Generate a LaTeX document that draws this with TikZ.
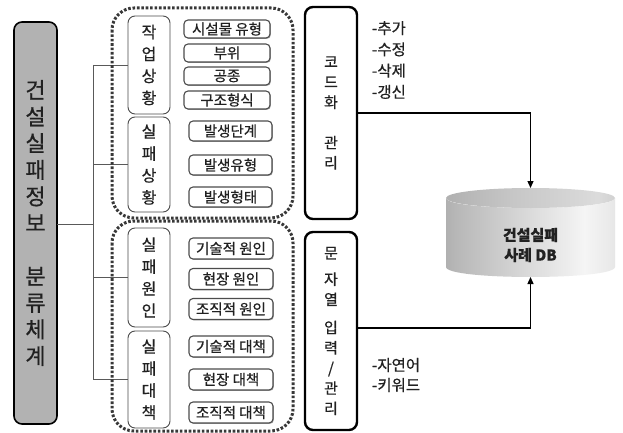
\documentclass[tikz,border=0pt]{standalone}
\usepackage{fontspec}
\setmainfont{Noto Sans CJK KR}[FakeBold=0.6]
\usetikzlibrary{shadows,arrows.meta}
\definecolor{boxgray}{gray}{0.70}
\definecolor{txt}{gray}{0.13}
\definecolor{catline}{gray}{0.30}
\definecolor{frm}{gray}{0.22}
\definecolor{conn}{gray}{0.35}
\definecolor{cA}{gray}{0.45}
\definecolor{cB}{gray}{0.72}
\definecolor{cC}{gray}{0.96}
\definecolor{cD}{gray}{0.84}
\definecolor{cE}{gray}{0.52}
\definecolor{tA}{gray}{0.58}
\definecolor{tB}{gray}{0.78}
\definecolor{tC}{gray}{0.86}
\definecolor{tD}{gray}{0.62}
\pgfdeclarehorizontalshading{cylbody}{100bp}{color(0bp)=(cA); color(28bp)=(cB); color(66bp)=(cC); color(86bp)=(cD); color(100bp)=(cE)}
\pgfdeclarehorizontalshading{cyltop}{100bp}{color(0bp)=(tA); color(45bp)=(tB); color(70bp)=(tC); color(100bp)=(tD)}
\begin{document}
\begin{tikzpicture}[x=1pt,y=-1pt,
  every node/.style={inner sep=0pt, outer sep=0pt},
  mainbox/.style={draw=black, line width=1.6pt, rounded corners=8pt, fill=boxgray,
    minimum width=43pt, minimum height=402pt, align=center, text=txt,
    font=\fontsize{22}{26.6}\selectfont},
  catbox/.style={draw=catline, line width=0.9pt, rounded corners=7pt, fill=white,
    minimum width=42pt, align=center, text=txt, font=\fontsize{16}{22}\selectfont},
  itembox/.style={draw=catline, line width=1.1pt, rounded corners=4pt, fill=white,
    text=txt, font=\fontsize{14.5}{16}\selectfont,
    drop shadow={shadow xshift=0.9pt, shadow yshift=-0.9pt, fill=gray!65, opacity=1}},
  sidebox/.style={draw=black, line width=2.4pt, rounded corners=8pt, fill=white,
    minimum width=52pt, align=center, text=txt, font=\fontsize{15}{20.2}\selectfont},
  frame/.style={draw=frm, line width=3pt, dash pattern=on 2.6pt off 1.8pt, rounded corners=22pt},
  conline/.style={draw=conn, line width=0.9pt},
  arr/.style={draw=black, line width=1.3pt, -{Triangle[length=7pt,width=6pt]}},
  lab/.style={align=left, text=txt, anchor=west}]
\useasboundingbox[fill=white] (0,0) rectangle (623,433);

% main box
\node[mainbox] (L) at (35.5,223) {건\\설\\실\\패\\정\\보\\[26.6pt]분\\류\\체\\계};

% category boxes
\node[catbox, minimum height=98pt] (c1) at (149,65) {작\\업\\상\\황};
\node[catbox, minimum height=95pt] (c2) at (149,164.5) {실\\패\\상\\황};
\node[catbox, minimum height=99pt] (c3) at (149,277.5) {실\\패\\원\\인};
\node[catbox, minimum height=97pt] (c4) at (149,379.5) {실\\패\\대\\책};

% connectors from main box
\coordinate (j) at (93,224);
\draw[conline] (L.east |- j) -- (j);
\draw[conline] (j |- c1.west) -- (j |- c4.west);
\draw[conline] (j |- c1.west) -- (c1.west);
\draw[conline] (j |- c2.west) -- (c2.west);
\draw[conline] (j |- c3.west) -- (c3.west);
\draw[conline] (j |- c4.west) -- (c4.west);

% item boxes
\node[itembox, minimum width=86pt, minimum height=18pt] (i11) at (227,29) {시설물 유형};
\node[itembox, minimum width=86pt, minimum height=18pt] (i12) at (227,53) {부위};
\node[itembox, minimum width=86pt, minimum height=18pt] (i13) at (227,76) {공종};
\node[itembox, minimum width=86pt, minimum height=18pt] (i14) at (227,100) {구조형식};
\node[itembox, minimum width=83pt, minimum height=20pt] (i21) at (230.5,131) {발생단계};
\node[itembox, minimum width=83pt, minimum height=20pt] (i22) at (230.5,165) {발생유형};
\node[itembox, minimum width=83pt, minimum height=20pt] (i23) at (230.5,197) {발생형태};
\node[itembox, minimum width=84pt, minimum height=21pt] (i31) at (231,248.5) {기술적 원인};
\node[itembox, minimum width=84pt, minimum height=21pt] (i32) at (231,279) {현장 원인};
\node[itembox, minimum width=84pt, minimum height=21pt] (i33) at (231,309) {조직적 원인};
\node[itembox, minimum width=84pt, minimum height=21pt] (i41) at (231,346.5) {기술적 대책};
\node[itembox, minimum width=84pt, minimum height=21pt] (i42) at (231,379.5) {현장 대책};
\node[itembox, minimum width=84pt, minimum height=21pt] (i43) at (231,412.5) {조직적 대책};

% dotted frames
\draw[frame] (112,8) rectangle (293,218);
\draw[frame] (112,221) rectangle (293,431);

% side boxes
\node[sidebox, minimum height=212pt] (R1) at (331,113) {코\\드\\화\\[20.2pt]관\\리};
\node[sidebox, minimum height=198pt] (R2) at (331,331) {문\\[6pt]자\\열\\[8pt]입\\력\\/\\관\\리};

% labels
\node[lab, font=\fontsize{15.5}{21.3}\selectfont] (lb1) at (372,60) {-추가\\-수정\\-삭제\\-갱신};
\node[lab, font=\fontsize{15.5}{20}\selectfont] (lb2) at (372,375) {-자연어\\-키워드};

% database cylinder
\path[shading=cylbody] (446,198) -- (446,267) .. controls (446,280.3) and (615,280.3) .. (615,267)
  -- (615,198) .. controls (615,211.3) and (446,211.3) .. (446,198) -- cycle;
\path[shading=cyltop] (530.5,198) ellipse [x radius=84.5, y radius=10];
\node[minimum width=169pt, minimum height=89pt] (db) at (530.5,232.5) {};
\node[font=\bfseries\fontsize{15}{20}\selectfont, align=center, text=txt] (dbt) at (530.5,245) {건설실패\\사례 DB};

% arrows
\draw[arr] (R1.east |- 0,113) -| (db.north);
\draw[arr] (R2.east |- 0,328) -| (db.south);
\end{tikzpicture}
\end{document}
